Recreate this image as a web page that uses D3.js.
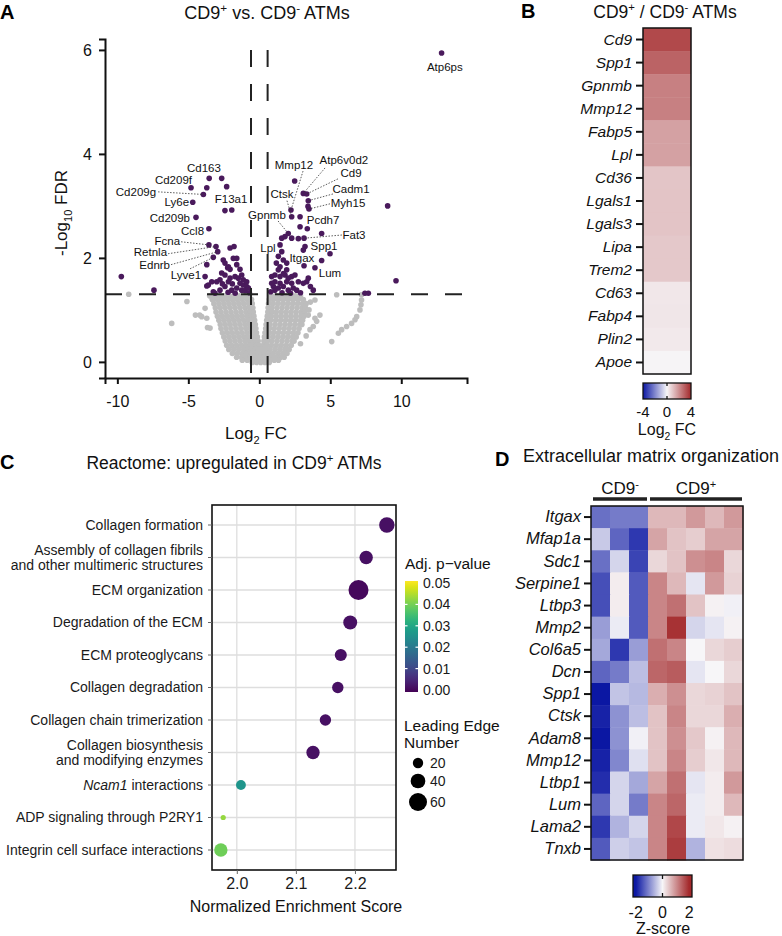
<!DOCTYPE html>
<head>
  <meta charset="utf-8">
  <style>
    body { margin: 0; background: #fff; }
    svg { font-family: "Liberation Sans", Arial, sans-serif; }
    .axis path, .axis line { stroke: #111; stroke-width: 2; }
    .axis text { font-size: 16px; fill: #111; font-family: "Liberation Sans", Arial, sans-serif; }
    .ns { fill: #bdbdbd; }
    .sig { fill: #4a1a5c; }
    .lab { font-size: 11.5px; fill: #111; }
    .leader { stroke: #333; stroke-width: 0.8; stroke-dasharray: 1.5,1.5; }
  </style>
  <script src="https://d3js.org/d3.v7.min.js"></script>
</head>
<body>
<script>
// ---------- A: volcano, [log2 FC, -log10 FDR]
var sigPoints = [
  [-9.72,1.64],[-7.42,1.38],
  [-3.53,3.53],[-2.65,3.53],[-2.3,3.37],[-4.81,3.35],[-3.7,3.35],[-3.94,3.22],[-4.69,3.07],
  [-2.42,2.91],[-1.94,2.92],[-4.46,2.78],[-3.55,2.56],
  [-3.55,2.25],[-3.05,2.22],[-2.93,2.12],[-3.24,2.01],
  [-2.06,2.19],[-1.78,2.22],[-1.83,1.99],[-1.59,1.99],[-2.23,1.81],[-2.06,1.78],[-1.36,1.78],
  [-2.54,1.96],[-2.42,1.9],[-2.18,1.83],[-1.59,1.87],[-1.24,1.67],[-1.71,1.64],[-2.06,1.61],
  [-2.18,1.54],[-2.77,1.58],[-3.0,1.54],[-3.35,1.54],[-3.59,1.48],[-1.36,1.51],[-1.13,1.48],
  [-0.89,1.45],[-2.42,1.45],[-2.77,1.38],[-3.24,1.35],[-1.94,1.38],[-1.59,1.42],[-1.24,1.38],
  [-1.0,1.37],[-0.77,1.42],[-3.82,1.64],[-3.7,1.87],[-1.13,1.58],[-1.48,1.61],[-0.89,1.54],
  [-2.42,1.67],[-2.65,1.71],[-3.7,1.46],[-3.12,1.32],[-2.2,1.34],[-1.7,1.32],[-0.7,1.33],
  [-1.9,1.5],[-2.6,1.5],
  [12.84,5.94],[9.04,3.0],[9.63,1.56],[7.44,1.32],[7.68,1.32],
  [2.49,3.48],[3.1,3.24],[3.34,3.23],[3.45,3.1],[3.5,2.94],[3.43,2.99],[2.23,2.92],[2.28,2.79],
  [2.87,2.79],[2.87,2.6],[3.38,2.56],[4.39,2.47],
  [2.04,2.47],[1.81,2.41],[1.58,2.38],[2.28,2.38],[2.75,2.37],[3.15,2.38],[4.98,2.08],
  [3.22,2.22],[3.1,2.15],[4.39,1.95],[3.92,1.81],[3.15,1.85],
  [3.34,1.54],[3.45,1.61],[3.8,1.38],[1.46,2.25],[1.58,2.12],[1.34,2.03],[1.69,1.96],
  [1.93,1.9],[1.46,1.83],[1.34,1.77],[1.93,1.77],[1.1,1.67],[1.46,1.64],[1.81,1.67],
  [2.28,1.64],[2.51,1.67],[1.1,1.54],[1.46,1.51],[1.93,1.54],[2.28,1.51],[0.99,1.45],
  [1.34,1.42],[1.69,1.45],[2.04,1.38],[2.39,1.42],[2.63,1.38],[1.1,1.38],[2.75,1.54],
  [3.1,1.51],[0.87,1.51],[0.87,1.64],[2.04,1.61],[0.8,1.35],[1.6,1.33],[2.2,1.32],
  [2.9,1.33],[3.6,1.45],[1.2,1.9],[1.7,1.7]
];
// non-significant genes, read row by row: [FDR level, log2 FC values]
var nsRows = [
  [1.27, [-3.5,-3.15,-2.8,-2.45,-2.1,-1.75,-1.4,-1.05,-0.7, 0.8,1.15,1.5,1.85,2.2,2.55,2.9]],
  [1.2,  [-3.3,-2.95,-2.6,-2.25,-1.9,-1.55,-1.2,-0.85,-0.55, 0.7,1.0,1.35,1.7,2.05,2.4,2.75,3.1]],
  [1.12, [-3.2,-2.85,-2.5,-2.15,-1.8,-1.45,-1.1,-0.75,-0.5, 0.65,0.95,1.3,1.65,2.0,2.35,2.7,3.05,3.3]],
  [1.04, [-3.1,-2.75,-2.4,-2.05,-1.7,-1.35,-1.0,-0.7,-0.45, 0.62,0.9,1.25,1.6,1.95,2.3,2.65,3.0,3.25]],
  [0.96, [-3.05,-2.7,-2.35,-2.0,-1.65,-1.3,-0.95,-0.65,-0.42, 0.6,0.88,1.2,1.55,1.9,2.25,2.6,2.95,3.2]],
  [0.88, [-2.95,-2.6,-2.25,-1.9,-1.55,-1.2,-0.85,-0.6,-0.38, 0.56,0.85,1.2,1.55,1.9,2.25,2.6,2.95,3.15]],
  [0.8,  [-2.85,-2.5,-2.15,-1.8,-1.45,-1.1,-0.8,-0.55,-0.33, 0.52,0.8,1.15,1.5,1.85,2.2,2.55,2.9,3.05]],
  [0.72, [-2.75,-2.4,-2.05,-1.7,-1.35,-1.0,-0.7,-0.48,-0.28, 0.48,0.75,1.1,1.45,1.8,2.15,2.5,2.85,3.0]],
  [0.64, [-2.7,-2.35,-2.0,-1.65,-1.3,-0.95,-0.65,-0.42,-0.24, 0.45,0.72,1.05,1.4,1.75,2.1,2.45,2.8]],
  [0.56, [-2.6,-2.25,-1.9,-1.55,-1.2,-0.85,-0.55,-0.35,-0.2, 0.4,0.68,1.0,1.35,1.7,2.05,2.4,2.72]],
  [0.48, [-2.5,-2.15,-1.8,-1.45,-1.1,-0.8,-0.5,-0.3,-0.14, 0.36,0.62,0.95,1.3,1.65,2.0,2.35,2.6]],
  [0.4,  [-2.4,-2.05,-1.7,-1.35,-1.0,-0.7,-0.45,-0.25,-0.08, 0.32,0.58,0.9,1.25,1.6,1.95,2.3,2.45]],
  [0.32, [-2.3,-1.95,-1.6,-1.25,-0.95,-0.65,-0.4,-0.2,-0.03, 0.28,0.52,0.85,1.2,1.55,1.9,2.25]],
  [0.24, [-2.15,-1.8,-1.45,-1.1,-0.8,-0.55,-0.3,-0.1,0.05,0.2,0.45,0.75,1.1,1.45,1.8,2.1]],
  [0.16, [-1.9,-1.55,-1.2,-0.9,-0.6,-0.35,-0.1,0.1,0.35,0.65,0.95,1.3,1.65,1.95]],
  [0.09, [-1.6,-1.25,-0.95,-0.65,-0.4,-0.15,0.05,0.3,0.55,0.85,1.15,1.5,1.75]],
  [0.03, [-1.2,-0.85,-0.55,-0.3,-0.05,0.2,0.45,0.75,1.05,1.35]],
  [-0.01,[-0.5,-0.2,0.1,0.4,0.7]]
];
var nsOutliers = [
  [-9.2,1.3],[-5.1,1.16],[-6.17,0.74],[-4.5,0.9],[-4.2,0.9],[-3.65,0.66],[-3.82,1.03],
  [-4.06,0.87],[-3.7,0.84],[-3.47,0.65],[-3.3,1.2],
  [3.92,1.19],[5.45,1.29],[7.2,1.29],[7.2,1.19],[7.16,1.1],[7.09,1.0],[6.86,0.87],[6.74,0.81],
  [6.5,0.74],[6.15,0.68],[5.8,0.62],[5.57,0.55],[5.1,0.39],[3.92,0.84],[3.57,0.62],[3.8,0.68],
  [4.27,0.9],[4.04,0.78],[3.5,1.0],[3.45,0.9],[3.3,0.5],[3.6,1.15],[2.9,0.35]
];
// gene labels: [text, label fc, label -log10 FDR, anchor]
var volcanoLabels = [
  ["Atp6ps",13.07,5.67,"middle"],["Cd163",-3.9,3.73,"middle"],["Cd209f",-4.74,3.5,"end"],
  ["Cd209g",-7.27,3.27,"end"],["Ly6e",-4.95,3.08,"end"],["Cd209b",-4.88,2.77,"end"],
  ["Ccl8",-3.89,2.52,"end"],["F13a1",-1.99,3.13,"middle"],["Fcna",-5.58,2.33,"end"],
  ["Retnla",-6.5,2.12,"end"],["Ednrb",-6.29,1.87,"end"],["Lyve1",-4.1,1.67,"end"],
  ["Mmp12",2.44,3.79,"middle"],["Atp6v0d2",5.96,3.88,"middle"],["Cd9",6.46,3.63,"middle"],
  ["Cadm1",6.46,3.33,"middle"],["Myh15",6.25,3.06,"middle"],["Ctsk",1.6,3.23,"middle"],
  ["Gpnmb",0.54,2.83,"middle"],["Pcdh7",4.49,2.73,"middle"],["Fat3",6.67,2.44,"middle"],
  ["Spp1",4.56,2.23,"middle"],["Lpl",0.61,2.19,"middle"],["Itgax",3.0,2.0,"middle"],
  ["Lum",4.98,1.71,"middle"]
];
// leader lines: [from fc, from v, to fc, to v]
var volcanoLeaders = [
  [-7.13,3.27,-3.94,3.22],[-5.51,2.31,-3.55,2.25],[-6.43,2.08,-3.05,2.22],
  [-6.22,1.87,-2.93,2.12],[-4.88,1.79,-3.24,2.01],
  [3.08,3.67,2.23,2.92],[4.63,3.73,3.1,3.24],[5.54,3.52,3.34,3.23],[5.19,3.23,3.45,3.1],
  [4.98,3.04,3.5,2.94],[1.95,3.1,2.28,2.79],[1.32,2.71,2.04,2.47],[5.82,2.44,3.22,2.38]
];
var volcanoTicksX = [-10, -5, 0, 5, 10];
var volcanoTicksY = [0, 2, 4, 6];
var fdrCut = 1.3, fcCut = 0.585;

// ---------- B: log2 FC heatmap
var bGenes = ["Cd9","Spp1","Gpnmb","Mmp12","Fabp5","Lpl","Cd36","Lgals1","Lgals3","Lipa","Trem2","Cd63","Fabp4","Plin2","Apoe"];
var bFC = [3.35, 2.85, 2.3, 2.3, 1.65, 1.65, 0.95, 0.97, 0.97, 0.9, 0.9, 0.3, 0.32, 0.26, 0.04];
var bTicks = [-4, 0, 4];

// ---------- C: Reactome dot plot
var pathways = ["Collagen formation", "Assembly of collagen fibrils\nand other multimeric structures",
  "ECM organization", "Degradation of the ECM", "ECM proteoglycans", "Collagen degradation",
  "Collagen chain trimerization", "Collagen biosynthesis\nand modifying enzymes",
  "Ncam1 interactions", "ADP signaling through P2RY1", "Integrin cell surface interactions"];
var italicWords = ["Ncam1"];
var nes = [2.254, 2.219, 2.206, 2.192, 2.176, 2.171, 2.150, 2.129, 2.007, 1.977, 1.973];
var padj = [0.002, 0.002, 0.001, 0.002, 0.002, 0.002, 0.002, 0.002, 0.026, 0.042, 0.039];
var leadingEdge = [44, 33, 74, 36, 27, 24, 24, 33, 18, 5, 33];
var nesTicks = [2.0, 2.1, 2.2];
var padjTicks = [0, 0.01, 0.02, 0.03, 0.04, 0.05];
var sizeTicks = [20, 40, 60];

// ---------- D: z-score heatmap
var dGenes = ["Itgax","Mfap1a","Sdc1","Serpine1","Ltbp3","Mmp2","Col6a5","Dcn","Spp1","Ctsk","Adam8","Mmp12","Ltbp1","Lum","Lama2","Tnxb"];
var samples = ["neg1","neg2","neg3","pos1","pos2","pos3","pos4","pos5"];
var groups = [["CD9", "-", 3], ["CD9", "+", 5]];
var zscore = [
  [-1.2,-1.1,-1.1, 0.6, 0.6, 0.9, 0.6, 0.9],
  [-0.4,-1.3,-1.7, 0.8, 0.5, 0.4, 0.8, 0.8],
  [-1.2,-0.3,-1.6, 0.3, 0.5, 1.0, 1.1, 0.3],
  [-1.5, 0.1,-1.4, 1.1, 0.6,-0.15, 0.9, 0.35],
  [-1.5, 0.1,-1.4, 1.1, 1.3, 0.5, 0.05,-0.05],
  [-0.8,-0.1,-1.4, 1.1, 1.9,-0.3,-0.15, 0.05],
  [-0.7,-1.7,-0.8, 1.3, 1.1, 0.0, 0.3, 0.4],
  [-1.3,-1.1,-0.5, 1.4, 1.5,-0.15, 0.0, 0.3],
  [-2.2,-0.45,-0.55, 0.7, 1.0, 0.3, 0.35, 0.5],
  [-1.9,-0.9,-0.5, 0.5, 1.1, 0.3, 0.3, 0.7],
  [-2.1,-0.9,-0.05, 0.5, 1.0, 0.45, 0.05, 0.6],
  [-1.9,-1.0,-0.2, 0.5, 1.1, 0.4, 0.15, 0.6],
  [-1.8,-0.3,-0.7, 0.8, 1.3,-0.15, 0.1, 0.9],
  [-1.3,-0.3,-1.1, 1.1, 1.4,-0.1, 0.1, 0.6],
  [-1.7,-0.6,-0.3, 1.1, 1.7,-0.1, 0.15, 0.05],
  [-1.4,-0.35,-0.45, 1.1, 1.8,-0.6, 0.2, 0.25]
];
var zTicks = [-2, 0, 2];

var svg = d3.select("body").append("svg").attr("width", 782).attr("height", 936);
var defs = svg.append("defs");

// text with super/subscript parts
function rich(sel, parts, fs) {
  var shift = 0;
  parts.forEach(function(p) {
    var target = p[1] === "sup" ? -0.38 * fs : p[1] === "sub" ? 0.3 * fs : 0;
    sel.append("tspan").attr("dy", target - shift)
      .attr("font-size", p[1] ? fs * 0.65 : fs).text(p[0]);
    shift = target;
  });
  return sel;
}
function title(x, y, parts, fs, anchor) {
  return rich(svg.append("text").attr("x", x).attr("y", y)
    .attr("text-anchor", anchor || "middle").attr("fill", "#111"), parts, fs);
}
function letter(x, y, t) {
  svg.append("text").attr("x", x).attr("y", y).attr("font-size", 20)
    .attr("font-weight", "bold").attr("font-family", "Arial, 'Liberation Sans', sans-serif").text(t);
}
function gradient(id, scale, lo, hi, vertical) {
  var g = defs.append("linearGradient").attr("id", id);
  if (vertical) g.attr("x1", 0).attr("y1", 1).attr("x2", 0).attr("y2", 0);
  d3.range(0, 1.0001, 0.05).forEach(function(t) {
    g.append("stop").attr("offset", t).attr("stop-color", scale(lo + t * (hi - lo)));
  });
}
function geneAxis(g, fs) {
  g.select(".domain").remove();
  g.selectAll("text").style("font-style", "italic").style("font-size", fs + "px");
}

var blueEnd = "#0b17a3", whiteMid = "#f7f6f8", redEnd = "#a3282a";

// ================= A
letter(0, 19, "A");
title(267, 19, [["CD9",""],["+","sup"],[" vs. CD9",""],["-","sup"],[" ATMs",""]], 18);

var xA = d3.scaleLinear().domain([-10.87, 14.63]).range([105, 467]);
var yA = d3.scaleLinear().domain([-0.31, 6.21]).range([378, 39]);
var gA = svg.append("g");

var grey = [];
nsRows.forEach(function(r) { r[1].forEach(function(fc) { grey.push([fc, r[0]]); }); });
grey = grey.concat(nsOutliers);

gA.selectAll(".ns").data(grey).enter().append("circle").attr("class", "ns")
  .attr("cx", function(d) { return xA(d[0]); })
  .attr("cy", function(d) { return yA(d[1]); })
  .attr("r", 2.8);

gA.selectAll(".sig").data(sigPoints).enter().append("circle").attr("class", "sig")
  .attr("cx", function(d) { return xA(d[0]); })
  .attr("cy", function(d) { return yA(d[1]); })
  .attr("r", 2.8);

// cut-off lines
gA.append("line")
  .attr("x1", xA.range()[0]).attr("x2", xA.range()[1])
  .attr("y1", yA(fdrCut)).attr("y2", yA(fdrCut))
  .attr("stroke", "#222").attr("stroke-width", 2).attr("stroke-dasharray", "17,17");
[-fcCut, fcCut].forEach(function(c) {
  gA.append("line")
    .attr("x1", xA(c)).attr("x2", xA(c))
    .attr("y1", yA(6)).attr("y2", yA.range()[0])
    .attr("stroke", "#222").attr("stroke-width", 2).attr("stroke-dasharray", "17,17");
});

gA.selectAll(".leader").data(volcanoLeaders).enter().append("line").attr("class", "leader")
  .attr("x1", function(d) { return xA(d[0]); }).attr("y1", function(d) { return yA(d[1]); })
  .attr("x2", function(d) { return xA(d[2]); }).attr("y2", function(d) { return yA(d[3]); });

gA.selectAll(".lab").data(volcanoLabels).enter().append("text").attr("class", "lab")
  .attr("x", function(d) { return xA(d[1]); })
  .attr("y", function(d) { return yA(d[2]); })
  .attr("dy", "0.35em")
  .attr("text-anchor", function(d) { return d[3]; })
  .text(function(d) { return d[0]; });

gA.append("g").attr("class", "axis").attr("transform", "translate(0,378)")
  .call(d3.axisBottom(xA).tickValues(volcanoTicksX).tickSizeOuter(0).tickSize(6).tickPadding(12)
    .tickFormat(function(d) { return String(d); }));
gA.append("g").attr("class", "axis").attr("transform", "translate(105,0)")
  .call(d3.axisLeft(yA).tickValues(volcanoTicksY).tickSizeOuter(0).tickSize(6).tickPadding(7)
    .tickFormat(function(d) { return String(d); }));

rich(svg.append("text").attr("transform", "translate(67,213) rotate(-90)")
  .attr("text-anchor", "middle").attr("fill", "#111"),
  [["-Log",""],["10","sub"],[" FDR",""]], 17);
title(256, 439, [["Log",""],["2","sub"],[" FC",""]], 17);

// ================= B
letter(521, 18, "B");
title(665, 18, [["CD9",""],["+","sup"],[" / CD9",""],["-","sup"],[" ATMs",""]], 17.5);

var bColor = d3.scaleLinear().domain([-4, 0, 4]).range([blueEnd, whiteMid, redEnd]).clamp(true);
var yB = d3.scaleBand().domain(bGenes).range([28, 374]);
var gB = svg.append("g");
gB.selectAll("rect.cell").data(bGenes).enter().append("rect").attr("class", "cell")
  .attr("x", 643).attr("width", 48)
  .attr("y", function(d) { return yB(d); })
  .attr("height", yB.bandwidth() + 0.5)
  .attr("fill", function(d, i) { return bColor(bFC[i]); });
gB.append("rect").attr("x", 643).attr("y", 28).attr("width", 48).attr("height", 346)
  .attr("fill", "none").attr("stroke", "#111").attr("stroke-width", 1.5);
gB.append("g").attr("class", "axis").attr("transform", "translate(643,0)")
  .call(d3.axisLeft(yB).tickSize(7).tickPadding(4).tickSizeOuter(0))
  .call(geneAxis, 15.5);

gradient("gradB", bColor, -4, 4);
var xBcb = d3.scaleLinear().domain([-4, 4]).range([643, 691]);
gB.append("rect").attr("x", 643).attr("y", 383).attr("width", 48).attr("height", 16)
  .attr("fill", "url(#gradB)").attr("stroke", "#111").attr("stroke-width", 1.3);
gB.append("line").attr("x1", xBcb(0)).attr("x2", xBcb(0)).attr("y1", 383).attr("y2", 386).attr("stroke", "#111").attr("stroke-width", 1.3);
gB.append("line").attr("x1", xBcb(0)).attr("x2", xBcb(0)).attr("y1", 396).attr("y2", 399).attr("stroke", "#111").attr("stroke-width", 1.3);
gB.selectAll(".cbt").data(bTicks).enter().append("text").attr("class", "cbt")
  .attr("x", function(d) { return xBcb(d); }).attr("y", 417)
  .attr("text-anchor", "middle").attr("font-size", 15).attr("fill", "#111")
  .text(function(d) { return String(d); });
title(667, 435, [["Log",""],["2","sub"],[" FC",""]], 16);

// ================= C
letter(0, 469, "C");
title(234, 469, [["Reactome: upregulated in CD9",""],["+","sup"],[" ATMs",""]], 17.5);

var xC = d3.scaleLinear().domain([1.958, 2.2695]).range([212, 396]);
var yC = d3.scalePoint().domain(pathways).range([525, 850]);
var colC = function(p) { return d3.interpolateViridis(p / 0.05); };
var rC = d3.scaleSqrt().domain([0, 60]).range([0, 9]);
var gC = svg.append("g");

gC.append("rect").attr("x", 212).attr("y", 505).attr("width", 184).attr("height", 365).attr("fill", "#fff");
gC.selectAll(".vg").data(nesTicks).enter().append("line")
  .attr("x1", function(d) { return xC(d); }).attr("x2", function(d) { return xC(d); })
  .attr("y1", 505).attr("y2", 870).attr("stroke", "#dedede").attr("stroke-width", 1.3);
gC.selectAll(".hg").data(pathways).enter().append("line")
  .attr("x1", 212).attr("x2", 396)
  .attr("y1", function(d) { return yC(d); }).attr("y2", function(d) { return yC(d); })
  .attr("stroke", "#dedede").attr("stroke-width", 1.3);

var order = d3.range(pathways.length);
gC.selectAll(".dot").data(order).enter().append("circle")
  .attr("cx", function(i) { return xC(nes[i]); })
  .attr("cy", function(i) { return yC(pathways[i]); })
  .attr("r", function(i) { return rC(leadingEdge[i]); })
  .attr("fill", function(i) { return colC(padj[i]); });

gC.append("rect").attr("x", 212).attr("y", 505).attr("width", 184).attr("height", 365)
  .attr("fill", "none").attr("stroke", "#111").attr("stroke-width", 1.6);

// row labels
pathways.forEach(function(p) {
  var lines = p.split("\n");
  lines.forEach(function(line, k) {
    var t = gC.append("text").attr("x", 203)
      .attr("y", yC(p) + (k - (lines.length - 1) / 2) * 15.5)
      .attr("dy", "0.35em").attr("text-anchor", "end").attr("font-size", 14).attr("fill", "#1a1a1a");
    line.split(" ").forEach(function(w, j) {
      t.append("tspan").text((j ? " " : "") + w)
        .style("font-style", italicWords.indexOf(w) >= 0 ? "italic" : "normal");
    });
  });
  gC.append("line").attr("x1", 208).attr("x2", 212).attr("y1", yC(p)).attr("y2", yC(p))
    .attr("stroke", "#666").attr("stroke-width", 1);
});

gC.append("g").attr("transform", "translate(0,870)")
  .call(d3.axisBottom(xC).tickValues(nesTicks).tickSize(4).tickSizeOuter(0).tickPadding(4)
    .tickFormat(d3.format(".1f")))
  .call(function(g) {
    g.select(".domain").remove();
    g.selectAll("line").attr("stroke", "#666");
    g.selectAll("text").attr("font-size", 16).attr("fill", "#1a1a1a")
      .attr("font-family", "'Liberation Sans', Arial, sans-serif");
  });
svg.append("text").attr("x", 296).attr("y", 912).attr("text-anchor", "middle")
  .attr("font-size", 16).attr("fill", "#111").text("Normalized Enrichment Score");

// legends
svg.append("text").attr("x", 405).attr("y", 569).attr("font-size", 15.5).attr("fill", "#111").text("Adj. p\u2212value");
var yLeg = d3.scaleLinear().domain([0, 0.05]).range([690, 583]);
gradient("gradV", colC, 0, 0.05, true);
svg.append("rect").attr("x", 405).attr("y", 581).attr("width", 13).attr("height", 111).attr("fill", "url(#gradV)");
padjTicks.slice(1, 5).forEach(function(t) {
  svg.append("line").attr("x1", 405).attr("x2", 407.5).attr("y1", yLeg(t)).attr("y2", yLeg(t)).attr("stroke", "#fff").attr("stroke-width", 1.2);
  svg.append("line").attr("x1", 415.5).attr("x2", 418).attr("y1", yLeg(t)).attr("y2", yLeg(t)).attr("stroke", "#fff").attr("stroke-width", 1.2);
});
svg.selectAll(".pl").data(padjTicks).enter().append("text")
  .attr("x", 423).attr("y", function(d) { return yLeg(d); }).attr("dy", "0.35em")
  .attr("font-size", 14).attr("fill", "#1a1a1a").text(d3.format(".2f"));

svg.append("text").attr("x", 404).attr("y", 731).attr("font-size", 15.5).attr("fill", "#111").text("Leading Edge");
svg.append("text").attr("x", 404).attr("y", 748).attr("font-size", 15.5).attr("fill", "#111").text("Number");
var sizeY = [763, 781, 802];
sizeTicks.forEach(function(s, i) {
  svg.append("circle").attr("cx", 418).attr("cy", sizeY[i]).attr("r", rC(s)).attr("fill", "#000");
  svg.append("text").attr("x", 430).attr("y", sizeY[i]).attr("dy", "0.35em")
    .attr("font-size", 14).attr("fill", "#1a1a1a").text(s);
});

// ================= D
letter(495, 466, "D");
svg.append("text").attr("x", 651).attr("y", 462).attr("text-anchor", "middle")
  .attr("font-size", 18).attr("fill", "#111").text("Extracellular matrix organization");

var dColor = d3.scaleLinear().domain([-2, 0, 2]).range([blueEnd, whiteMid, redEnd]).clamp(true);
var xD = d3.scaleBand().domain(samples).range([591, 743]);
var yD = d3.scaleBand().domain(dGenes).range([506, 860]);
var gD = svg.append("g");
var cells = [];
zscore.forEach(function(row, i) { row.forEach(function(v, j) { cells.push([dGenes[i], samples[j], v]); }); });
gD.selectAll("rect.cell").data(cells).enter().append("rect")
  .attr("x", function(d) { return xD(d[1]); }).attr("y", function(d) { return yD(d[0]); })
  .attr("width", xD.bandwidth() + 0.5).attr("height", yD.bandwidth() + 0.5)
  .attr("fill", function(d) { return dColor(d[2]); });
gD.append("rect").attr("x", 591).attr("y", 506).attr("width", 152).attr("height", 354)
  .attr("fill", "none").attr("stroke", "#111").attr("stroke-width", 1.5);
gD.append("g").attr("class", "axis").attr("transform", "translate(591,0)")
  .call(d3.axisLeft(yD).tickSize(7).tickPadding(3).tickSizeOuter(0))
  .call(geneAxis, 16.5);

// group bars
var start = 0;
groups.forEach(function(gr) {
  var x0 = xD(samples[start]) + 2, x1 = xD(samples[start + gr[2] - 1]) + xD.bandwidth() - 1;
  gD.append("line").attr("x1", x0).attr("x2", x1).attr("y1", 499).attr("y2", 499)
    .attr("stroke", "#222").attr("stroke-width", 3.5);
  rich(gD.append("text").attr("x", (x0 + x1) / 2).attr("y", 494).attr("text-anchor", "middle").attr("fill", "#111"),
    [[gr[0], ""], [gr[1], "sup"]], 17);
  start += gr[2];
});

gradient("gradD", dColor, -2.2, 2.2);
var xDcb = d3.scaleLinear().domain([-2.2, 2.2]).range([633, 692]);
gD.append("rect").attr("x", 633).attr("y", 875).attr("width", 59).attr("height", 22)
  .attr("fill", "url(#gradD)").attr("stroke", "#111").attr("stroke-width", 1.3);
gD.append("line").attr("x1", xDcb(0)).attr("x2", xDcb(0)).attr("y1", 875).attr("y2", 879).attr("stroke", "#111").attr("stroke-width", 1.3);
gD.append("line").attr("x1", xDcb(0)).attr("x2", xDcb(0)).attr("y1", 893).attr("y2", 897).attr("stroke", "#111").attr("stroke-width", 1.3);
gD.selectAll(".zt").data(zTicks).enter().append("text")
  .attr("x", function(d) { return xDcb(d); }).attr("y", 918)
  .attr("text-anchor", "middle").attr("font-size", 16).attr("fill", "#111")
  .text(function(d) { return String(d); });
svg.append("text").attr("x", 663).attr("y", 934).attr("text-anchor", "middle")
  .attr("font-size", 16).attr("fill", "#111").text("Z-score");
</script>
</body>
</html>
